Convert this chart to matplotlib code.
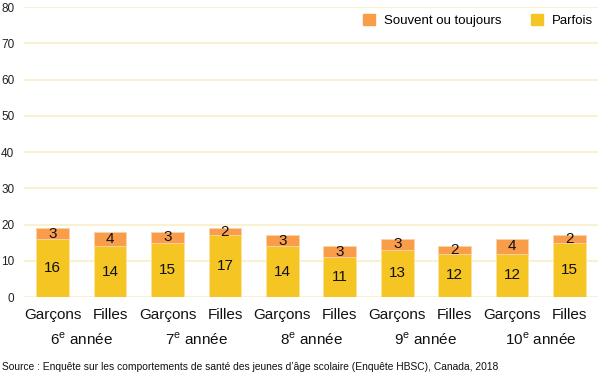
import matplotlib
matplotlib.use("Agg")
import matplotlib.pyplot as plt
import matplotlib.patches as mpatches
import numpy as np

plt.rcParams['font.family'] = ['Liberation Sans', 'DejaVu Sans']
plt.rcParams['mathtext.fontset'] = 'custom'
plt.rcParams['mathtext.rm'] = 'Liberation Sans'

sexes = ['Garçons', 'Filles'] * 5
grade_num = ['6', '7', '8', '9', '10']
parfois = [16, 14, 15, 17, 14, 11, 13, 12, 12, 15]
souvent = [3, 4, 3, 2, 3, 3, 3, 2, 4, 2]

yellow = '#F5C523'
orange = '#F99D4B'
grid_col = '#FAEFC8'

fig = plt.figure(figsize=(6, 3.76), dpi=100)
ax = fig.add_axes([0.04, 0.21, 0.957, 0.771])

x = np.arange(len(sexes))
w = 0.57
ax.bar(x, parfois, w, color=yellow, edgecolor='#FBE3A0', linewidth=0.6, zorder=2)
ax.bar(x, souvent, w, bottom=parfois, color=orange, edgecolor='#FCD2A8', linewidth=0.6, zorder=2)

for i in range(len(x)):
    ax.text(x[i], parfois[i] / 2, str(parfois[i]), ha='center', va='center', fontsize=11, color='#111111', zorder=3)
    ax.text(x[i], parfois[i] + souvent[i] / 2, str(souvent[i]), ha='center', va='center', fontsize=11, color='#111111', zorder=3)

ax.set_xlim(-0.5, len(sexes) - 0.5)
ax.set_ylim(0, 80)
ax.set_yticks(range(0, 81, 10))
ax.yaxis.grid(True, color=grid_col, linewidth=1.2)
ax.set_axisbelow(True)
for s in ax.spines.values():
    s.set_visible(False)
ax.tick_params(axis='both', length=0)
ax.tick_params(axis='y', labelsize=8.5, labelcolor='#222222', pad=7)
ax.set_xticks(x)
ax.set_xticklabels(sexes, fontsize=11, color='#111111')
ax.tick_params(axis='x', pad=8)

# grade labels with a small superscript "e"
tr = ax.get_xaxis_transform()
for g, num in enumerate(grade_num):
    lab = num + '$^{\\mathrm{e}}$ année'
    ax.text(2 * g + 0.5, -0.145, lab, transform=tr,
            ha='center', va='center', fontsize=11, color='#111111',
            math_fontfamily='custom')

handles = [mpatches.Patch(color=orange, label='Souvent ou toujours'),
           mpatches.Patch(color=yellow, label='Parfois')]
ax.legend(handles=handles, ncol=2, loc='upper right', bbox_to_anchor=(1.0, 0.995),
          frameon=False, fontsize=9.5, handlelength=0.9, handleheight=0.9,
          columnspacing=2.2, handletextpad=0.7, borderaxespad=0.0)

fig.text(0.004, 0.025, "Source : Enquête sur les comportements de santé des jeunes d’âge scolaire (Enquête HBSC), Canada, 2018",
         fontsize=7.4, color='#111111', ha='left', va='center')

fig.savefig('out.png', dpi=100)
